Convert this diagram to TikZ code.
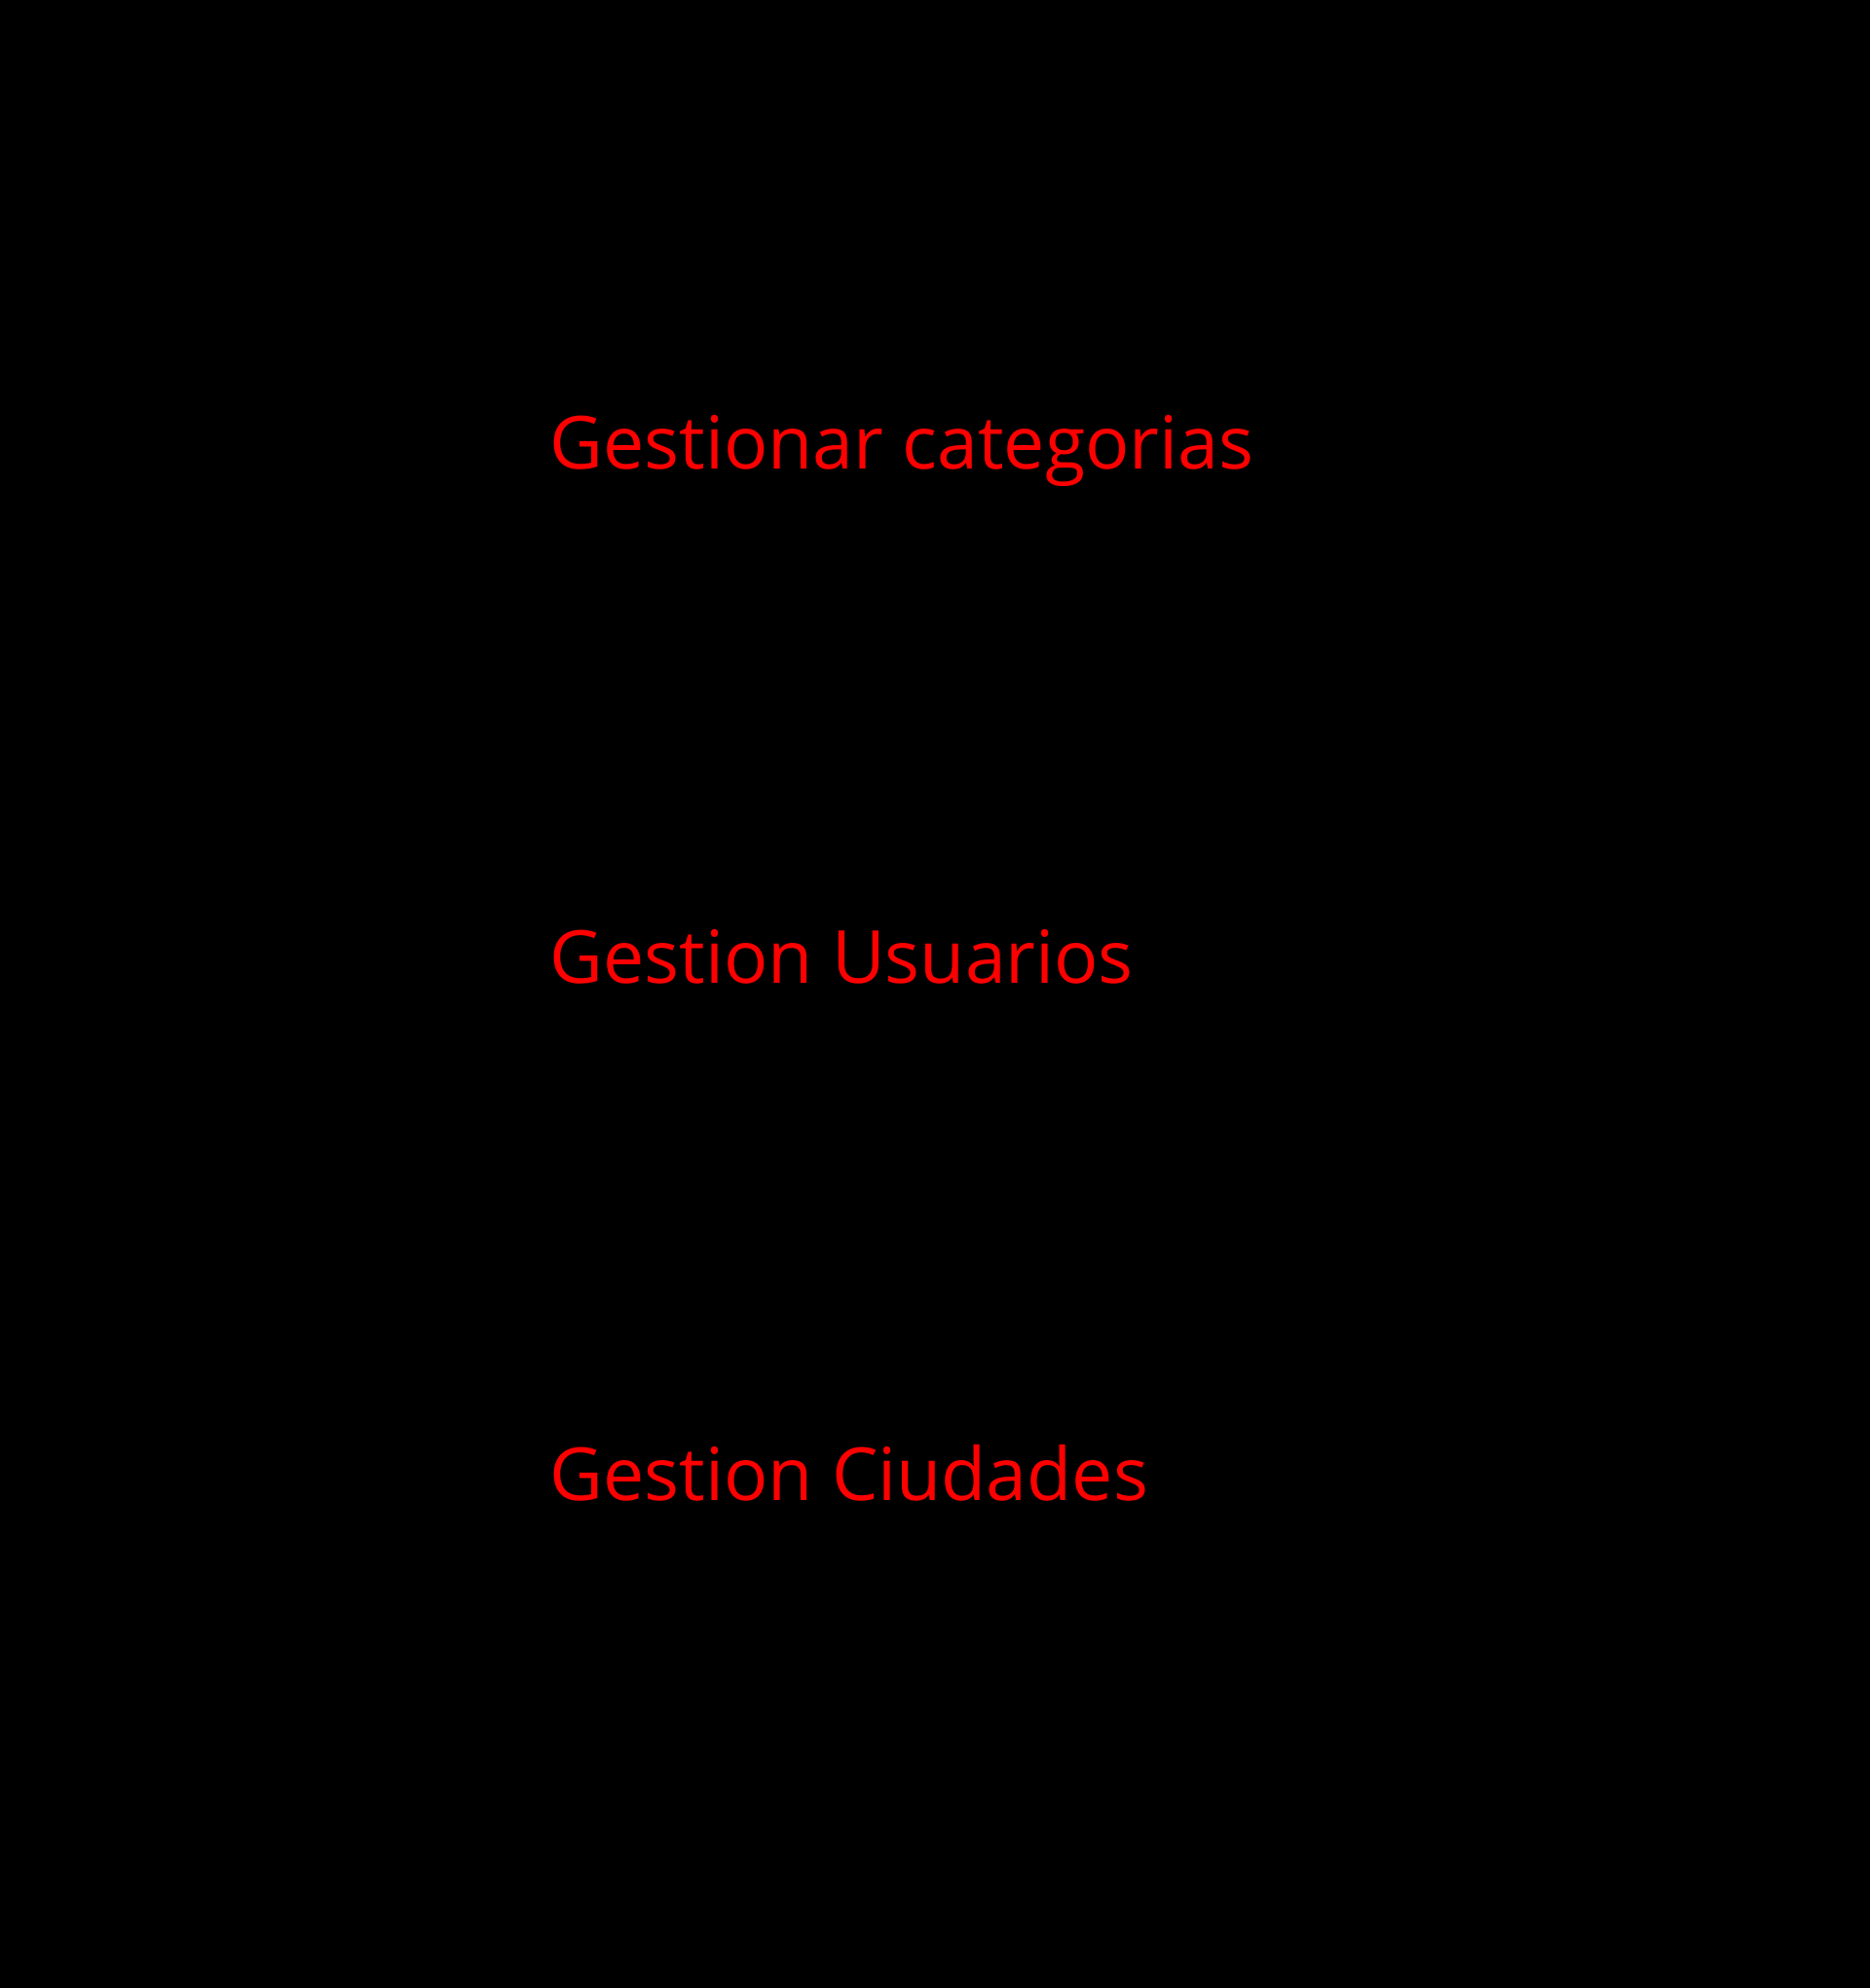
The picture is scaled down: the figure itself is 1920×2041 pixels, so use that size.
\documentclass[tikz,border=0pt]{standalone}
\usepackage{fontspec}
\setmainfont{Open Sans}
\usepackage{tikz}

\begin{document}
\begin{tikzpicture}[x=0.1mm,y=-0.1mm]
  \tikzset{gestion/.style={anchor=base west,inner sep=0pt,text=red,font=\fontsize{21.4}{26}\selectfont}}
  \fill[black] (0,0) rectangle (1920,2041);
  \useasboundingbox (0,0) rectangle (1920,2041);
  \node[gestion] (categorias) at (564,481)  {Gestionar categorias};
  \node[gestion] (usuarios)   at (564,1009) {Gestion Usuarios};
  \node[gestion] (ciudades)   at (564,1540) {Gestion Ciudades};
\end{tikzpicture}
\end{document}
